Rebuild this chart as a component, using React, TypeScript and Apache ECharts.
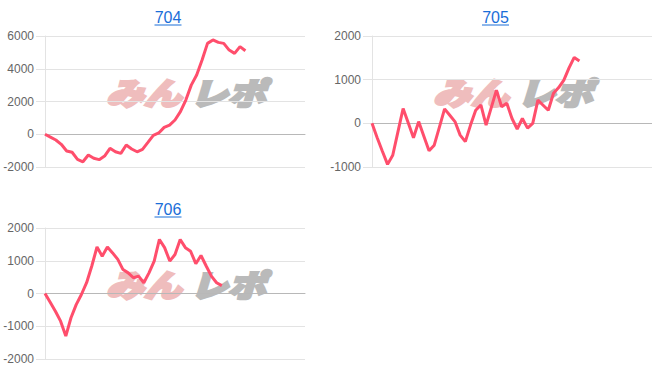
import React, { useEffect, useRef } from 'react';
import * as echarts from 'echarts';

const chartTitles = ['704', '705', '706'];

const values704 = [
  0, -175, -350, -615, -1020, -1100, -1530, -1680, -1270, -1470, -1550, -1330, -860,
  -1070, -1170, -660, -900, -1070, -920, -500, -70, 80, 420, 560, 870, 1380, 2090,
  3000, 3620, 4530, 5550, 5760, 5610, 5550, 5140, 4940, 5350, 5100,
];
const values705 = [
  0, -330, -640, -940, -730, -195, 340, 5, -330, 40, -295, -630, -500, -85, 330, 185,
  40, -270, -420, -40, 300, 420, -40, 360, 760, 380, 460, 110, -130, 110, -110, 0, 530,
  415, 300, 690, 820, 990, 1270, 1510, 1430,
];
const values706 = [
  0, -270, -540, -845, -1300, -740, -340, -30, 330, 840, 1420, 1140, 1420, 1240, 1040,
  730, 630, 480, 530, 330, 630, 990, 1650, 1400, 990, 1190, 1650, 1400, 1290, 910, 1160,
  840, 530, 330, 240,
];

// number of x slots on each chart's (hidden) category axis
const slotCount = [49, 55, 51];

// y axis ranges [min, max, interval]
const yRange704 = [-2000, 6000, 2000];
const yRange705 = [-1000, 2000, 1000];
const yRange706 = [-2000, 2000, 1000];

const LINE = 'rgb(255, 78, 108)';
const GRID = '#e3e3e3';
const ZERO = '#b8b8b8';
const LINK = '#1a6ed8';
const FONT = '"Liberation Sans", Arial, sans-serif';
const MARK_FONT = `italic 900 31px "Noto Sans CJK JP", sans-serif`;

export default function App() {
  const ref = useRef<HTMLDivElement>(null);

  useEffect(() => {
    if (!ref.current) return;
    const chart = echarts.init(ref.current, null, { renderer: 'svg' });

    const grids = [
      { left: 45, top: 36, width: 260, height: 131 },
      { left: 372, top: 36, width: 280, height: 131 },
      { left: 45, top: 228, width: 260, height: 131 },
    ];
    const ranges = [yRange704, yRange705, yRange706];
    const seriesData = [values704, values705, values706];
    const titlePos = [
      [168, 17.5],
      [495.5, 17.5],
      [168, 209.5],
    ];
    const markPos = [
      [106, 92],
      [433, 92],
      [106, 284],
    ];

    const xAxes = slotCount.map((n, i) => ({
      type: 'category',
      gridIndex: i,
      boundaryGap: false,
      data: Array.from({ length: n }, (_, k) => String(k + 1)),
      axisLabel: { show: false },
      axisTick: { show: false },
      axisLine: { show: true, onZero: true, lineStyle: { color: ZERO, width: 1 } },
      splitLine: { show: false },
    }));

    const yAxes = ranges.map((r, i) => ({
      type: 'value',
      gridIndex: i,
      min: r[0],
      max: r[1],
      interval: r[2],
      axisLine: { show: true, lineStyle: { color: GRID } },
      axisTick: { show: true, length: 9, lineStyle: { color: GRID } },
      axisLabel: {
        margin: 11,
        color: '#666',
        fontSize: 12,
        fontFamily: FONT,
        formatter: (v: number) => String(v),
      },
      splitLine: { show: true, lineStyle: { color: GRID, width: 1 } },
    }));

    const series = seriesData.map((d, i) => ({
      type: 'line',
      xAxisIndex: i,
      yAxisIndex: i,
      data: d,
      showSymbol: false,
      symbol: 'none',
      smooth: false,
      z: 5,
      lineStyle: { color: LINE, width: 3 },
    }));

    const graphics: any[] = [];
    chartTitles.forEach((t, i) => {
      const [cx, cy] = titlePos[i];
      graphics.push({
        type: 'text',
        x: cx,
        y: cy,
        z: 10,
        style: {
          text: t,
          fill: LINK,
          font: `16px ${FONT}`,
          textAlign: 'center',
          align: 'center',
          textVerticalAlign: 'middle',
          verticalAlign: 'middle',
        },
      });
      graphics.push({
        type: 'line',
        z: 10,
        shape: { x1: cx - 13.5, y1: cy + 7.5, x2: cx + 13.5, y2: cy + 7.5 },
        style: { stroke: LINK, lineWidth: 1 },
      });
      const [mx, my] = markPos[i];
      graphics.push({
        type: 'text',
        x: mx,
        y: my,
        z: 0,
        scaleX: 1.22,
        style: {
          text: 'みん',
          fill: '#efbdbd',
          stroke: '#efbdbd',
          lineWidth: 2.5,
          font: MARK_FONT,
          textAlign: 'left',
          align: 'left',
          textVerticalAlign: 'middle',
          verticalAlign: 'middle',
        },
      });
      graphics.push({
        type: 'text',
        x: mx + 84,
        y: my,
        z: 0,
        scaleX: 1.22,
        style: {
          text: 'レポ',
          fill: '#bababa',
          stroke: '#bababa',
          lineWidth: 2.5,
          font: MARK_FONT,
          textAlign: 'left',
          align: 'left',
          textVerticalAlign: 'middle',
          verticalAlign: 'middle',
        },
      });
    });

    chart.setOption({
      animation: false,
      backgroundColor: '#fff',
      grid: grids.map((g) => ({ ...g, containLabel: false })),
      xAxis: xAxes,
      yAxis: yAxes,
      series,
      graphic: { elements: graphics },
    });

    return () => chart.dispose();
  }, []);

  return (
    <div
      ref={ref}
      style={{ position: 'fixed', left: 0, top: 0, width: 652, height: 382 }}
    />
  );
}
